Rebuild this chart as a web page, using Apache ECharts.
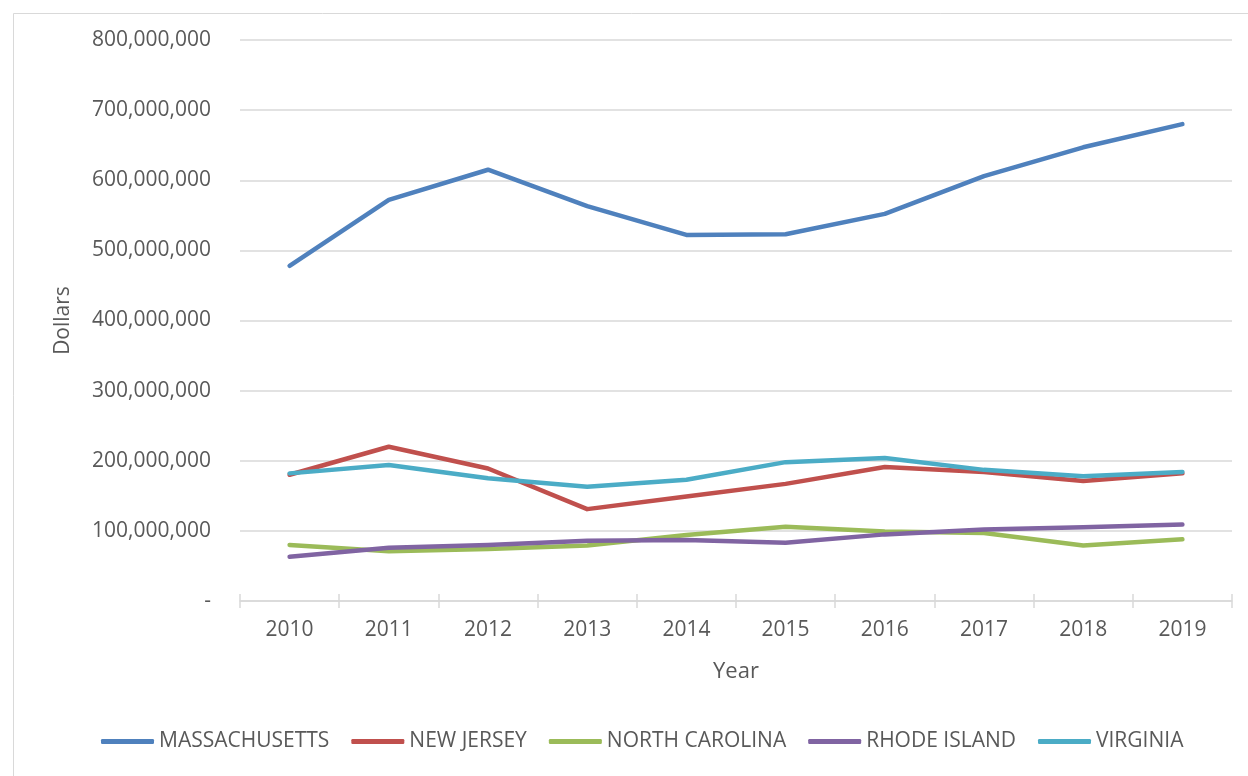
<!DOCTYPE html>
<html>
<head>
<meta charset="utf-8">
<script src="https://cdn.jsdelivr.net/npm/echarts@6/dist/echarts.min.js"></script>
<style>
html,body{margin:0;padding:0;background:#fff;}
#chart{width:1248px;height:776px;}
</style>
</head>
<body>
<div id="chart"></div>
<script>
const years = ['2010','2011','2012','2013','2014','2015','2016','2017','2018','2019'];
const massachusetts = [478e6, 572e6, 615e6, 563e6, 522e6, 523e6, 552e6, 606e6, 647e6, 680e6];
const newJersey     = [180e6, 220e6, 189e6, 131e6, 149e6, 167e6, 191e6, 184e6, 171e6, 182e6];
const northCarolina = [80e6, 71e6, 74e6, 79e6, 94e6, 106e6, 99e6, 97e6, 79e6, 88e6];
const rhodeIsland   = [63e6, 76e6, 80e6, 86e6, 87e6, 83e6, 95e6, 102e6, 105e6, 109e6];
const virginia      = [182e6, 194e6, 175e6, 163e6, 173e6, 198e6, 204e6, 187e6, 178e6, 184e6];
const seriesNames = ['MASSACHUSETTS','NEW JERSEY','NORTH CAROLINA','RHODE ISLAND','VIRGINIA'];
const seriesColors = ['#4F81BD','#C0504D','#9BBB59','#8064A2','#4BACC6'];
const seriesData = [massachusetts, newJersey, northCarolina, rhodeIsland, virginia];

const font = "'Open Sans', 'Noto Sans', sans-serif";
const chart = echarts.init(document.getElementById('chart'), null, {renderer:'canvas'});
chart.setOption({
  animation: false,
  backgroundColor: '#fff',
  textStyle: {fontFamily: font},
  graphic: [{
    type: 'rect', left: 11, top: 11,
    shape: {x: 0, y: 0, width: 1250, height: 780},
    style: {fill: 'none', stroke: '#d9d9d9', lineWidth: 1}
  }],
  grid: {left: 240, right: 16, top: 40, bottom: 175},
  legend: {
    bottom: 19, left: 96,
    icon: 'roundRect', itemWidth: 53, itemHeight: 5, itemGap: 22,
    textStyle: {color: '#595959', fontSize: 21, fontFamily: font},
    data: seriesNames
  },
  xAxis: [{
    type: 'category', data: years, boundaryGap: true,
    name: 'Year', nameLocation: 'middle', nameGap: 60,
    nameTextStyle: {color: '#595959', fontSize: 22, fontFamily: font},
    axisLine: {lineStyle: {color: '#d9d9d9', width: 1.5}},
    axisTick: {show: true, length: 7, lineStyle: {color: '#d9d9d9', width: 1.5}},
    axisLabel: {color: '#595959', fontSize: 21, margin: 19, fontFamily: font}
  }, {
    type: 'category', data: years, boundaryGap: true, position: 'bottom',
    axisLine: {show: false},
    axisTick: {show: true, inside: true, length: 7, lineStyle: {color: '#d9d9d9', width: 1.5}},
    axisLabel: {show: false}
  }],
  yAxis: {
    type: 'value', min: 0, max: 800e6, interval: 100e6,
    name: 'Dollars', nameLocation: 'middle', nameGap: 166, nameRotate: 90,
    nameTextStyle: {color: '#595959', fontSize: 21, fontFamily: font},
    axisLine: {show: false}, axisTick: {show: false},
    splitLine: {lineStyle: {color: '#d9d9d9', width: 1.5}},
    axisLabel: {
      color: '#595959', fontSize: 21, margin: 29, fontFamily: font,
      formatter: function (v) { return v === 0 ? '-' : v.toLocaleString('en-US'); }
    }
  },
  series: seriesNames.map((n, i) => ({
    name: n, type: 'line', data: seriesData[i],
    symbol: 'none', showSymbol: false,
    lineStyle: {color: seriesColors[i], width: 4.5, cap: 'round', join: 'round'},
    itemStyle: {color: seriesColors[i]}
  }))
});
</script>
</body>
</html>
